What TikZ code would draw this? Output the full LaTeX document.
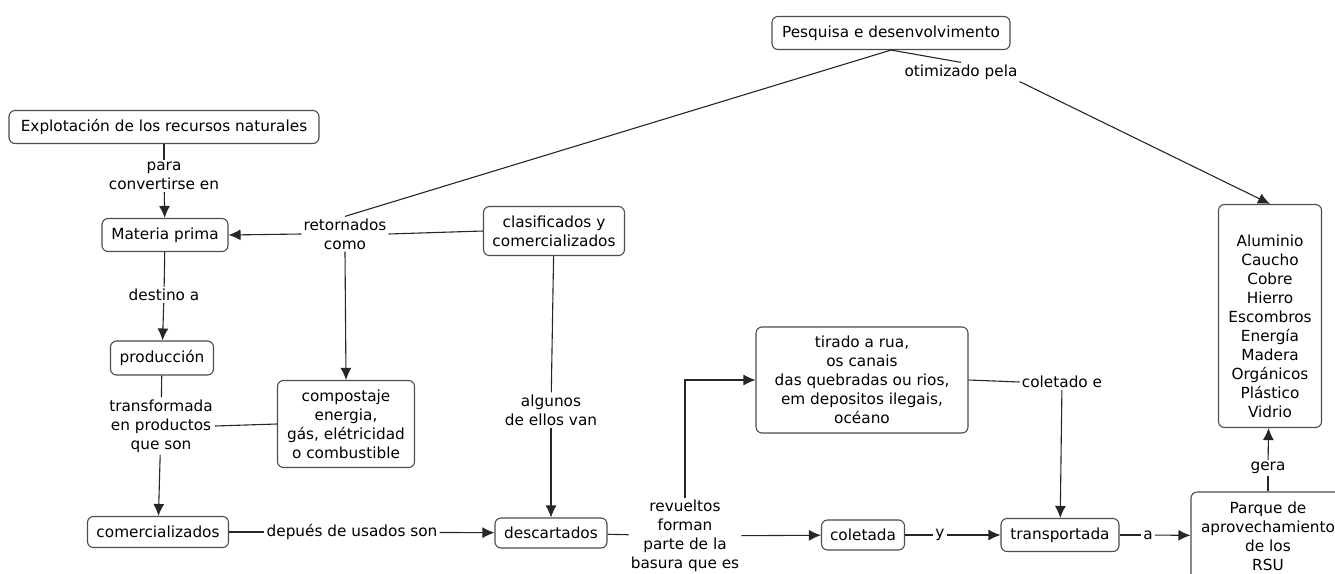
\documentclass[tikz,border=0pt]{standalone}
\usepackage{fontspec}
\setmainfont{DejaVu Sans}
\usepackage{tikz}
\usetikzlibrary{arrows.meta}
\tikzstyle{concept}=[draw=black!70, line width=1.1pt, rounded corners=6pt, align=center, inner sep=3pt, fill=white]
\tikzstyle{phrase}=[align=center, inner sep=2pt]
\tikzstyle{link}=[draw=black!85, line width=1.1pt]
\tikzstyle{linkto}=[link, -{Latex[length=12pt,width=11pt]}]

\begin{document}
\begin{tikzpicture}[x=1pt, y=-1pt, font=\fontsize{15.3}{19}\selectfont, text=black]
		\useasboundingbox (0,0) rectangle (1335,573);
		\clip (0,0) rectangle (1335,573);
		% concepts
		\foreach \n/\x/\y/\w/\h/\t in {
				pesq/891/33/238/33/{Pesquisa e desenvolvimento},
				expl/164/127/310/33/{Explotación de los recursos naturales},
				mp/165/235/126/33/{Materia prima},
				clas/554/231/141/49/{clasificados y\\comercializados},
				prod/162/358/103/34/{producción},
				tirado/862/380/212/106/{tirado a rua,\\os canais\\das quebradas ou rios,\\em depositos ilegais,\\océano},
				comp/346/424/137/87/{compostaje\\energia,\\gás, elétricidad\\o combustible},
				com/158/532/141/31/{comercializados},
				desc/551/533/112/30/{descartados},
				colet/863/535/83/30/{coletada},
				transp/1060/535/118/33/{transportada},
				parque/1268/536/154/88/{Parque de\\aprovechamiento\\de los\\RSU}}
			\node[concept, minimum width=\w, minimum height=\h] (\n) at (\x,\y) {\t};
		\node[concept, minimum width=103, minimum height=223] (alum) at (1270,316)
			{\raisebox{-12pt}[\height][\depth]{\begin{tabular}{@{}c@{}}Aluminio\\Caucho\\Cobre\\Hierro\\Escombros\\Energía\\Madera\\Orgánicos\\Plástico\\Vidrio\end{tabular}}};
		% linking phrases
		\foreach \n/\x/\y/\t in {
				otim/961/72/{otimizado pela},
				para/164/176/{para\\convertirse en},
				retorn/345/234/{retornados\\como},
				dest/164/295/{destino a},
				alg/551/410/{algunos\\de ellos van},
				transf/161/426/{transformada\\en productos\\que son},
				coletado/1062/382/{coletado e},
				gera/1268/468/{gera},
				depues/352/532/{depués de usados son},
				revu/685/536/{revueltos\\forman\\parte de la\\basura que es},
				lnky/940/535/{y},
				lnka/1148/535/{a}}
			\node[phrase] (\n) at (\x,\y) {\t};
		% plain lines
		\foreach \a/\b in {expl/para, mp/dest, prod/transf, com/depues, desc/revu, colet/lnky,
				transp/lnka, tirado.east/coletado.west, clas.west/retorn.east, comp.west/transf.east,
				pesq.south/retorn.north, pesq.south/otim.north, clas/alg, parque/gera}
			\draw[link] (\a) -- (\b);
		% arrows
		\foreach \a/\b in {para/mp, retorn.west/mp.east, retorn.south/comp.north, dest/prod, transf/com,
				depues/desc, alg/desc, revu/colet, lnky/transp, lnka/parque, coletado/transp,
				otim.south east/alum.north, gera/alum}
			\draw[linkto] (\a) -- (\b);
		\draw[linkto] (revu.north) |- (tirado.west);
	\end{tikzpicture}
\end{document}
